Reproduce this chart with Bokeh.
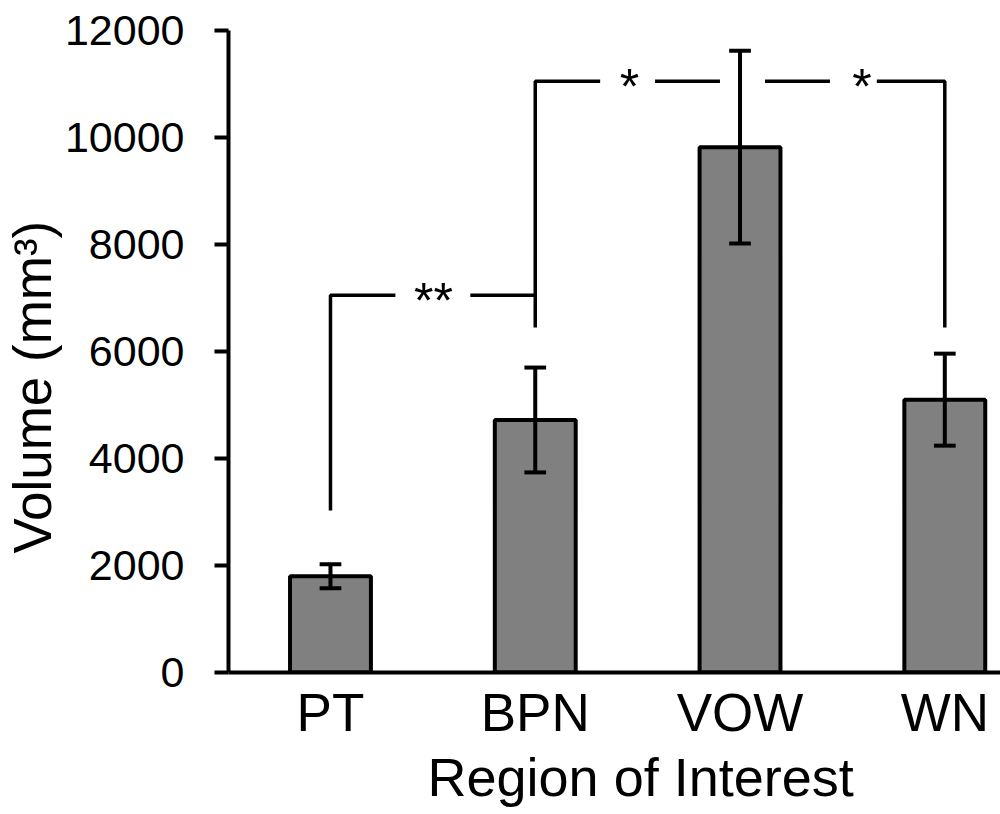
from bokeh.plotting import figure
from bokeh.models import Range1d, FixedTicker, Title
from bokeh.core.properties import value
from bokeh.embed import file_html
from bokeh.resources import INLINE

# ---- data ----
categories = ["PT", "BPN", "VOW", "WN"]
volumes = [1800, 4720, 9820, 5100]
errors = [225, 980, 1800, 860]
y_ticks = [0, 2000, 4000, 6000, 8000, 10000, 12000]

# significance annotations
sig_labels = ["**", "*", "*"]
sig_levels = [7050, 11050, 11050]
sig_label_x = [0.503, 1.46, 2.595]
bracket_foot = [3030, 6450, 6450]  # where vertical legs end (PT, BPN, WN)

FONT = "Liberation Sans"
xs = list(range(len(categories)))

p = figure(width=1000, height=814, output_backend="svg", toolbar_location=None,
           x_range=Range1d(-0.498, 3.272), y_range=Range1d(0, 12000),
           min_border_left=228, min_border_right=0, min_border_top=30,
           min_border_bottom=142)
p.outline_line_color = None
p.xgrid.visible = False
p.ygrid.visible = False
p.background_fill_color = "white"
p.border_fill_color = "white"

# bars
p.vbar(x=xs, top=volumes, bottom=0, width=0.395, fill_color="#808080",
       line_color="black", line_width=4)

# error bars
lo = [v - e for v, e in zip(volumes, errors)]
hi = [v + e for v, e in zip(volumes, errors)]
p.segment(x0=xs, y0=lo, x1=xs, y1=hi, line_color="black", line_width=4)
cap = 0.053
p.segment(x0=[x - cap for x in xs], y0=hi, x1=[x + cap for x in xs], y1=hi,
          line_color="black", line_width=4)
p.segment(x0=[x - cap for x in xs], y0=lo, x1=[x + cap for x in xs], y1=lo,
          line_color="black", line_width=4)

# brackets
BW = 3.5
p.line([0, 0, 0.317], [bracket_foot[0], sig_levels[0], sig_levels[0]], line_color="black", line_width=BW)
p.line([0.683, 1, 1], [sig_levels[0], sig_levels[0], bracket_foot[1]], line_color="black", line_width=BW)
p.line([1, 1, 1.317], [sig_levels[0], sig_levels[1], sig_levels[1]], line_color="black", line_width=BW)
p.line([1.585, 1.902], [sig_levels[1], sig_levels[1]], line_color="black", line_width=BW)
p.line([2.122, 2.439], [sig_levels[2], sig_levels[2]], line_color="black", line_width=BW)
p.line([2.668, 3, 3], [sig_levels[2], sig_levels[2], bracket_foot[2]], line_color="black", line_width=BW)

p.text(x=sig_label_x, y=sig_levels, text=sig_labels, text_font=value(FONT),
       text_font_size="50px", text_align="center", text_baseline="alphabetic",
       y_offset=6, text_color="black")

# axes
p.yaxis.ticker = FixedTicker(ticks=y_ticks)
p.yaxis.axis_line_width = 4
p.yaxis.major_tick_line_width = 4
p.yaxis.major_tick_out = 14
p.yaxis.major_tick_in = 0
p.yaxis.minor_tick_line_color = None
p.yaxis.major_label_standoff = 30
p.yaxis.major_label_text_font = FONT
p.yaxis.major_label_text_font_size = "43px"
p.yaxis.major_label_text_color = "black"
p.yaxis.axis_line_color = "black"
p.yaxis.major_tick_line_color = "black"

p.xaxis.ticker = FixedTicker(ticks=xs)
p.xaxis.major_label_overrides = {i: c for i, c in zip(xs, categories)}
p.xaxis.axis_line_width = 4
p.xaxis.axis_line_color = "black"
p.xaxis.major_tick_line_color = None
p.xaxis.minor_tick_line_color = None
p.xaxis.major_tick_out = 0
p.xaxis.major_tick_in = 0
p.xaxis.major_label_standoff = 10
p.xaxis.major_label_text_font = FONT
p.xaxis.major_label_text_font_size = "53px"
p.xaxis.major_label_text_color = "black"

# axis titles as side titles
p.add_layout(Title(text="Volume (mm³)", align="left", offset=119,
                   text_font=FONT, text_font_size="53px", text_color="black",
                   text_font_style="normal", standoff=0), "left")
p.add_layout(Title(text="Region of Interest", align="left", offset=199,
                   text_font=FONT, text_font_size="54px", text_color="black",
                   text_font_style="normal", standoff=0), "below")

open("out.html", "w").write(file_html(p, INLINE))
